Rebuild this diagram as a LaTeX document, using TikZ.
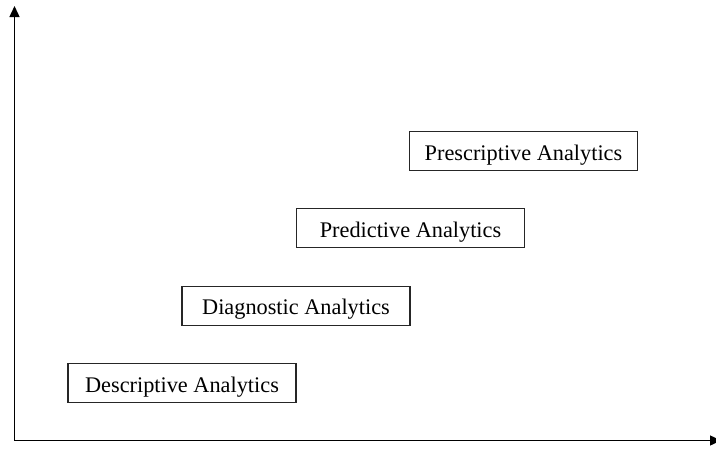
\documentclass[tikz,border=0pt]{standalone}
\usepackage{fontspec}
\setmainfont{Liberation Serif}
\usetikzlibrary{arrows.meta}
\begin{document}
\begin{tikzpicture}[x=1pt,y=-1pt,
  stage/.style={draw=black!85,line width=1.1pt,minimum width=228pt,minimum height=39pt,
    inner sep=0pt,text height=18pt,text depth=0pt,font=\fontsize{22.3}{24}\selectfont},
  axis/.style={line width=1.4pt,-{Triangle[length=11pt,width=10pt]}}]
\useasboundingbox (0,0) rectangle (716,448);
\fill[white] (0,0) rectangle (716,448);
\coordinate (o) at (14.5,440.5);
\coordinate (ytop) at (14.5,6);
\coordinate (xend) at (721,440.5);
\draw[axis] (o) -- (ytop);
\draw[axis] (o) -- (xend);
\node[stage] (desc) at (182,383.3) {Descriptive Analytics};
\node[stage] (diag) at (296,305.7) {Diagnostic Analytics};
\node[stage] (pred) at (410.5,228) {Predictive Analytics};
\node[stage] (pres) at (523.5,151) {Prescriptive Analytics};
\end{tikzpicture}
\end{document}
